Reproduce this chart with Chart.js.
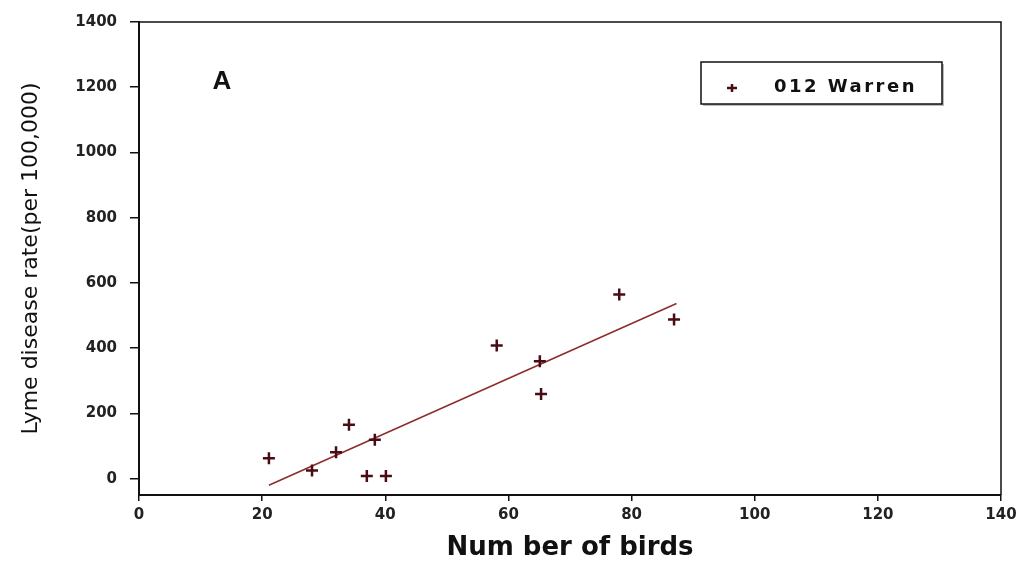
<!DOCTYPE html>
<html>
<head>
<meta charset="utf-8">
<script src="https://cdn.jsdelivr.net/npm/chart.js@4.4.1/dist/chart.umd.min.js"></script>
<style>
  body { margin: 0; background: #fff; }
  #wrap { width: 1023px; height: 566px; position: relative; }
</style>
</head>
<body>
<div id="wrap"><canvas id="chart"></canvas></div>
<script>
// values
const birds = [21.1, 28.1, 32, 34.1, 37, 38.3, 40.1, 58.1, 65.1, 65.3, 78, 86.9];
const lymeRate = [63, 25, 81, 165, 8, 119, 8, 408, 360, 260, 565, 488];
const fitX = [21.1, 87.3];
const fitY = [-20, 537];
const xTicks = [0, 20, 40, 60, 80, 100, 120, 140];
const yTicks = [0, 200, 400, 600, 800, 1000, 1200, 1400];
const seriesName = "012 Warren";
const panelLetter = "A";

const markColor = "#4a0c14";
const lineColor = "#8e2b2b";

// box round the plot, the legend and the panel letter
const framePlugin = {
  id: "frame",
  afterDraw(chart) {
    const { ctx, chartArea: a } = chart;
    ctx.save();
    ctx.strokeStyle = "#111";
    ctx.lineWidth = 1.5;
    ctx.beginPath();
    ctx.moveTo(a.left, a.top);
    ctx.lineTo(a.right, a.top);
    ctx.lineTo(a.right, a.bottom);
    ctx.stroke();

    // legend box
    const lx = a.left + 562, ly = a.top + 40, lw = 241, lh = 42;
    ctx.fillStyle = "#bbb";
    ctx.fillRect(lx + 2, ly + 2, lw, lh);
    ctx.fillStyle = "#fff";
    ctx.fillRect(lx, ly, lw, lh);
    ctx.lineWidth = 1.5;
    ctx.strokeStyle = "#111";
    ctx.strokeRect(lx, ly, lw, lh);

    const mx = lx + 31, my = ly + 26;
    ctx.strokeStyle = markColor;
    ctx.lineWidth = 2.5;
    ctx.beginPath();
    ctx.moveTo(mx - 5, my); ctx.lineTo(mx + 5, my);
    ctx.moveTo(mx, my - 4); ctx.lineTo(mx, my + 4);
    ctx.stroke();

    ctx.fillStyle = "#111";
    ctx.font = "bold 18px 'DejaVu Sans'";
    ctx.letterSpacing = "2.5px";
    ctx.textBaseline = "middle";
    ctx.textAlign = "left";
    ctx.fillText(chart.data.datasets[0].label, lx + 73, ly + 25);

    ctx.letterSpacing = "0px";
    ctx.font = "bold 26px 'Liberation Sans'";
    ctx.textAlign = "center";
    ctx.fillText(panelLetter, a.left + 83, a.top + 60);
    ctx.restore();
  }
};

Chart.defaults.font.family = "'DejaVu Sans'";
Chart.defaults.color = "#222";

new Chart(document.getElementById("chart"), {
  type: "scatter",
  plugins: [framePlugin],
  data: {
    datasets: [
      {
        label: seriesName,
        data: birds.map((b, i) => ({ x: b, y: lymeRate[i] })),
        pointStyle: "cross",
        pointRadius: 6,
        pointBorderWidth: 2.5,
        borderColor: markColor,
        backgroundColor: markColor,
        showLine: false,
      },
      {
        label: "fit",
        data: fitX.map((v, i) => ({ x: v, y: fitY[i] })),
        showLine: true,
        pointRadius: 0,
        borderColor: lineColor,
        borderWidth: 1.5,
      },
    ],
  },
  options: {
    responsive: true,
    maintainAspectRatio: false,
    animation: false,
    layout: { padding: { left: 0, top: 20, right: 22, bottom: 0 } },
    plugins: {
      legend: { display: false },
      tooltip: { enabled: false },
    },
    scales: {
      x: {
        type: "linear",
        min: 0,
        max: 140,
        afterBuildTicks: (s) => { s.ticks = xTicks.map((v) => ({ value: v })); },
        afterFit: (s) => { s.height = 71; },
        ticks: { padding: 5, font: { size: 15, weight: "bold" }, maxRotation: 0, callback: (v) => String(v) },
        grid: { drawOnChartArea: false, color: "#111", tickLength: 6, lineWidth: 1.5 },
        border: { color: "#111", width: 2 },
        title: {
          display: true,
          text: "Num ber of birds",
          color: "#111",
          font: { size: 26, weight: "bold" },
          padding: { top: 0, bottom: 2 },
        },
      },
      y: {
        type: "linear",
        min: -50,
        max: 1400,
        afterBuildTicks: (s) => { s.ticks = yTicks.map((v) => ({ value: v })); },
        afterFit: (s) => { s.width = 139; },
        ticks: { padding: 13, font: { size: 15, weight: "bold" }, callback: (v) => String(v) },
        grid: { drawOnChartArea: false, color: "#111", tickLength: 9, lineWidth: 1.5 },
        border: { color: "#111", width: 2 },
        title: {
          display: true,
          text: "Lyme disease rate(per 100,000)",
          color: "#111",
          font: { size: 22 },
          padding: { top: 18, bottom: 0 },
        },
      },
    },
  },
});
</script>
</body>
</html>
